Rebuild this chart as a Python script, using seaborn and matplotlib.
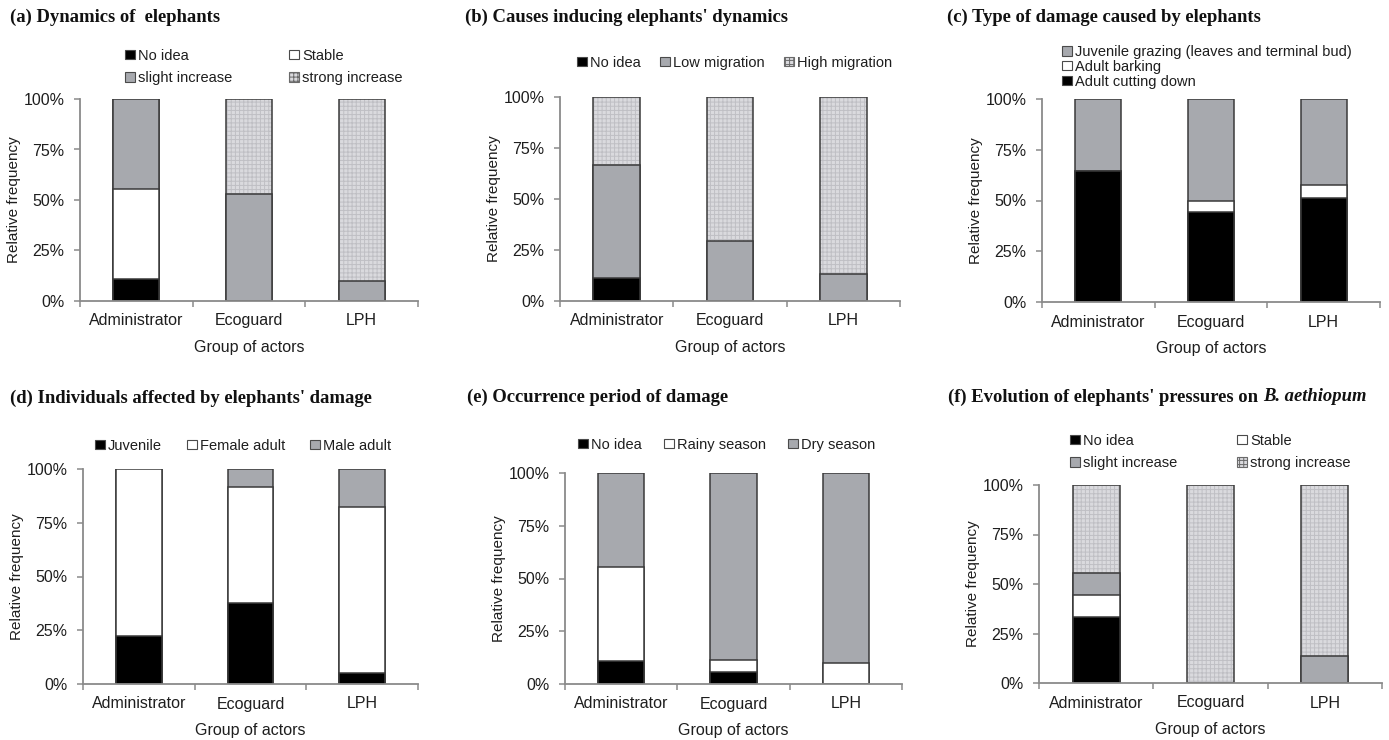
import numpy as np
import matplotlib
matplotlib.use("Agg")
import matplotlib.pyplot as plt
import seaborn as sns
from matplotlib.patches import Patch

# ---------------- data ----------------
groups = ["Administrator", "Ecoguard", "LPH"]
ytick_vals = [0, 25, 50, 75, 100]
ytick_labels = ["0%", "25%", "50%", "75%", "100%"]

# (a) Dynamics of elephants
a_no_idea = [11.1, 0.0, 0.0]
a_stable = [44.4, 0.0, 0.0]
a_slight = [44.5, 53.0, 10.0]
a_strong = [0.0, 47.0, 90.0]

# (b) Causes inducing elephants' dynamics
b_no_idea = [11.1, 0.0, 0.0]
b_low = [55.6, 29.5, 13.3]
b_high = [33.3, 70.5, 86.7]

# (c) Type of damage caused by elephants
c_cutting = [64.4, 44.4, 51.2]
c_barking = [0.0, 5.6, 6.3]
c_grazing = [35.6, 50.0, 42.5]

# (d) Individuals affected by elephants' damage
d_juvenile = [22.4, 37.6, 5.3]
d_female = [77.6, 54.2, 77.0]
d_male = [0.0, 8.2, 17.7]

# (e) Occurrence period of damage
e_no_idea = [11.1, 5.7, 0.0]
e_rainy = [44.5, 5.7, 10.0]
e_dry = [44.4, 88.6, 90.0]

# (f) Evolution of elephants' pressures on B. aethiopum
f_no_idea = [33.4, 0.0, 0.0]
f_stable = [11.0, 0.0, 0.0]
f_slight = [11.0, 0.0, 13.5]
f_strong = [44.6, 100.0, 86.5]

# ---------------- style ----------------
W, H = 1389, 740
sns.set_theme(style="ticks")
plt.rcParams["font.family"] = ["Liberation Sans", "DejaVu Sans"]
plt.rcParams["hatch.linewidth"] = 0.7

FILL = {"black": "#000000", "white": "#ffffff", "gray": "#a7a9ae", "hatch": "#dadade"}
HATCH_C = "#bfbfc4"
EDGE = "#3a3a3a"
SPINE = "#8a8a8a"
TXT = "#1e1e1e"
BW = 0.41

fig = plt.figure(figsize=(W / 100, H / 100), dpi=100)
fig.patch.set_facecolor("white")


def px_axes(l, t, r, b):
    return fig.add_axes([l / W, 1 - b / H, (r - l) / W, (b - t) / H])


def draw_stack(ax, series, styles):
    cum = np.cumsum(np.array(series, dtype=float), axis=0)
    for i in range(len(series) - 1, -1, -1):
        st = styles[i]
        if st == "hatch":
            sns.barplot(x=groups, y=cum[i], order=groups, color=FILL["hatch"],
                        saturation=1, width=BW, edgecolor=HATCH_C, linewidth=0,
                        hatch="++++", errorbar=None, ax=ax)
            sns.barplot(x=groups, y=cum[i], order=groups, color=EDGE, fill=False,
                        width=BW, linewidth=1.1, errorbar=None, ax=ax)
        else:
            sns.barplot(x=groups, y=cum[i], order=groups, color=FILL[st],
                        saturation=1, width=BW, edgecolor=EDGE, linewidth=1.1,
                        errorbar=None, ax=ax)


def style_axes(ax):
    ax.set_ylim(0, 100)
    ax.set_xlim(-0.5, 2.5)
    ax.set_yticks(ytick_vals)
    ax.set_yticklabels(ytick_labels)
    ax.set_xticks([0, 1, 2])
    ax.set_xticklabels(groups)
    ax.set_xticks([-0.5, 0.5, 1.5, 2.5], minor=True)
    ax.tick_params(axis="x", which="major", length=0, pad=9, labelsize=11.5, labelcolor=TXT)
    ax.tick_params(axis="x", which="minor", bottom=True, length=4, width=1.1,
                   direction="out", color=SPINE)
    ax.tick_params(axis="y", which="major", left=True, length=4, width=1.1,
                   direction="out", color=SPINE, pad=7, labelsize=11.5, labelcolor=TXT)
    ax.tick_params(axis="y", which="minor", left=False)
    sns.despine(ax=ax)
    for s in ("left", "bottom"):
        ax.spines[s].set_color(SPINE)
        ax.spines[s].set_linewidth(1.3)
    ax.set_ylabel("Relative frequency", fontsize=11, color=TXT, labelpad=2)
    ax.set_xlabel("Group of actors", fontsize=11.5, color=TXT, labelpad=8)
    ax.set_facecolor("white")


def add_legend(labels, styles, x, y, ncol, colsp, labelsp=0.5):
    handles = []
    for st in styles:
        if st == "hatch":
            handles.append(Patch(facecolor=FILL["hatch"], edgecolor="#6a6a6a",
                                 hatch="++++", linewidth=0.8))
        else:
            handles.append(Patch(facecolor=FILL[st], edgecolor="#4a4a4a", linewidth=0.8))
    leg = fig.legend(handles, labels, loc="center left",
                     bbox_to_anchor=(x / W, 1 - y / H), ncol=ncol, frameon=False,
                     borderpad=0, borderaxespad=0, handlelength=0.7,
                     handleheight=0.6, handletextpad=0.2, columnspacing=colsp,
                     labelspacing=labelsp, fontsize=10.5)
    for t in leg.get_texts():
        t.set_color(TXT)


def add_title(text, x, y):
    return fig.text(x / W, 1 - y / H, text, fontfamily="Liberation Serif",
                    fontweight="bold", fontsize=13.4, va="center", ha="left", color="#111111")


# (a)
ax = px_axes(80, 99, 418, 301)
draw_stack(ax, [a_no_idea, a_stable, a_slight, a_strong], ["black", "white", "gray", "hatch"])
style_axes(ax)
add_title("(a) Dynamics of  elephants", 10, 17)
add_legend(["No idea", "slight increase", "Stable", "strong increase"],
           ["black", "gray", "white", "hatch"], 125, 67, 2, 3.9, 0.55)

# (b)
ax = px_axes(560, 97, 900, 301)
draw_stack(ax, [b_no_idea, b_low, b_high], ["black", "gray", "hatch"])
style_axes(ax)
add_title("(b) Causes inducing elephants' dynamics", 465, 17)
add_legend(["No idea", "Low migration", "High migration"],
           ["black", "gray", "hatch"], 577, 63, 3, 1.3)

# (c)
ax = px_axes(1042, 99, 1380, 302)
draw_stack(ax, [c_cutting, c_barking, c_grazing], ["black", "white", "gray"])
style_axes(ax)
add_title("(c) Type of damage caused by elephants", 947, 17)
add_legend(["Juvenile grazing (leaves and terminal bud)", "Adult barking", "Adult cutting down"],
           ["gray", "white", "black"], 1062, 67, 1, 1.0, 0.05)

# (d)
ax = px_axes(83, 469, 418, 684)
draw_stack(ax, [d_juvenile, d_female, d_male], ["black", "white", "gray"])
style_axes(ax)
add_title("(d) Individuals affected by elephants' damage", 10, 398)
add_legend(["Juvenile", "Female adult", "Male adult"],
           ["black", "white", "gray"], 95, 446, 3, 1.7)

# (e)
ax = px_axes(565, 473, 902, 684)
draw_stack(ax, [e_no_idea, e_rainy, e_dry], ["black", "white", "gray"])
style_axes(ax)
add_title("(e) Occurrence period of damage", 467, 397)
add_legend(["No idea", "Rainy season", "Dry season"],
           ["black", "white", "gray"], 578, 445, 3, 1.5)

# (f)
ax = px_axes(1039, 485, 1382, 683)
draw_stack(ax, [f_no_idea, f_stable, f_slight, f_strong], ["black", "white", "gray", "hatch"])
style_axes(ax)
tf = add_title("(f) Evolution of elephants' pressures on", 948, 397)
add_legend(["No idea", "slight increase", "Stable", "strong increase"],
           ["black", "gray", "white", "hatch"], 1070, 452, 2, 4.1, 0.55)

fig.canvas.draw()
bb = tf.get_window_extent(renderer=fig.canvas.get_renderer())
fig.text((bb.x1 + 5) / W, 1 - 397 / H, "B. aethiopum", fontfamily="Liberation Serif",
         fontweight="bold", fontstyle="italic", fontsize=13.4, va="center", ha="left",
         color="#111111")

fig.savefig("out.png", dpi=100, facecolor="white")
